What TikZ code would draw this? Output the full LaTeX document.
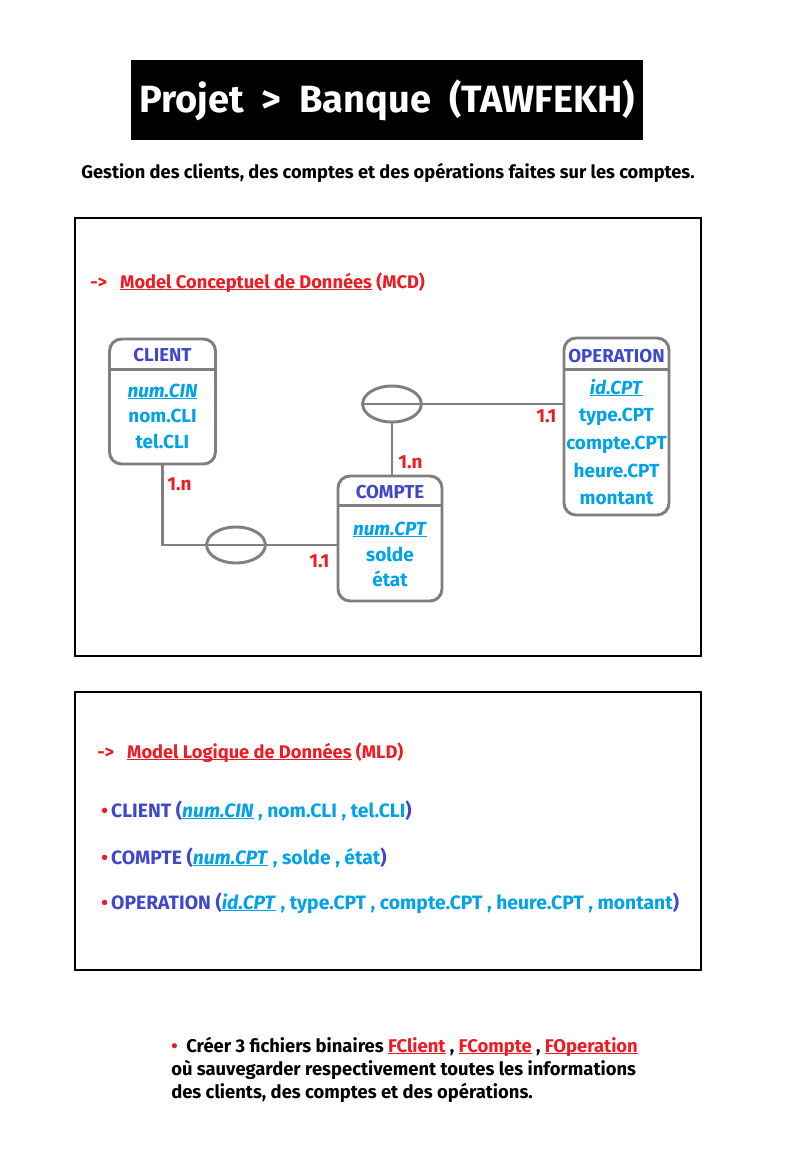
\documentclass[tikz,border=0pt]{standalone}
\usepackage{fontspec}
\setmainfont{Fira Sans}
\usetikzlibrary{shapes.geometric}
\definecolor{dblue}{HTML}{3F48CC}
\definecolor{lblue}{HTML}{00A2E8}
\definecolor{pred}{HTML}{ED1C24}
\definecolor{gry}{HTML}{7F7F7F}
\newcommand{\fs}[1]{\fontsize{#1}{#1}\selectfont\bfseries}
\newcommand{\myul}[1]{\setbox0\hbox{#1}\rlap{\rule[-1.6pt]{\wd0}{0.75pt}}\box0\relax}
\begin{document}
\begin{tikzpicture}[x=0.75pt,y=-0.75pt,
  entity/.style={draw=gry, line width=2.2pt, rounded corners=9pt, inner sep=0pt},
  sepline/.style={draw=gry, line width=2.2pt},
  rel/.style={ellipse, draw=gry, line width=2.2pt, minimum width=44pt, minimum height=27pt, inner sep=0pt},
  link/.style={draw=gry, line width=2.2pt},
  ename/.style={text=dblue, font=\fs{14}, anchor=base, inner sep=0pt},
  attr/.style={text=lblue, font=\fs{14.2}, anchor=base, inner sep=0pt},
  card/.style={text=pred, font=\fs{14.2}, anchor=base west, inner sep=0pt},
  txt/.style={font=\fs{14.5}, anchor=base west, inner sep=0pt},
  head/.style={text=pred, font=\fs{13.7}, anchor=base west, inner sep=0pt},
  frame/.style={draw=black, line width=0.8pt}]
\useasboundingbox (0,0) rectangle (800,1150);
\fill[white] (0,0) rectangle (800,1150);

% title
\node[fill=black, minimum width=384pt, minimum height=60pt, inner sep=0pt] (titlebox) at (387,100) {};
\node[text=white, font=\fs{28.5}, anchor=base, inner sep=0pt] (title) at (387,112) {Projet\ \ >\ \ Banque\ \ (TAWFEKH)};
\node[font=\fs{13.7}, anchor=base, inner sep=0pt] (subtitle) at (388,178) {Gestion des clients, des comptes et des opérations faites sur les comptes.};

% MCD frame
\node[frame, minimum width=469.5pt, minimum height=328.5pt, inner sep=0pt] (mcdframe) at (388,437) {};
\node[head] (mcdh) at (90,288) {->\ \ \ \myul{Model Conceptuel de Données} (MCD)};

% entities
\node[entity, minimum width=79.5pt, minimum height=93.75pt] (client) at (162.5,401.5) {};
\draw[sepline] ([yshift=-24pt]client.north west) -- ([yshift=-24pt]client.north east);
\node[ename] (clientn) at (162.5,361) {CLIENT};
\node[attr] (c1) at (162.5,397) {\myul{\textit{num.CIN}}};
\node[attr] (c2) at (162.5,422) {nom.CLI};
\node[attr] (c3) at (162.5,448) {tel.CLI};

\node[entity, minimum width=78.75pt, minimum height=132.75pt] (operation) at (616.5,426.5) {};
\draw[sepline] ([yshift=-24.75pt]operation.north west) -- ([yshift=-24.75pt]operation.north east);
\node[ename] (opn) at (616.5,362) {OPERATION};
\node[attr] (o1) at (616.5,394) {\myul{\textit{id.CPT}}};
\node[attr] (o2) at (616.5,421) {type.CPT};
\node[attr] (o3) at (616.5,449) {compte.CPT};
\node[attr] (o4) at (616.5,477) {heure.CPT};
\node[attr] (o5) at (616.5,504) {montant};

\node[entity, minimum width=78pt, minimum height=93.75pt] (compte) at (390,538.5) {};
\draw[sepline] ([yshift=-23.25pt]compte.north west) -- ([yshift=-23.25pt]compte.north east);
\node[ename] (compten) at (390,498) {COMPTE};
\node[attr] (k1) at (390,535) {\myul{\textit{num.CPT}}};
\node[attr] (k2) at (390,561) {solde};
\node[attr] (k3) at (390,586) {état};

% relations
\node[rel] (rel1) at (392,404) {};
\node[rel] (rel2) at (236,545) {};
\draw[link] (rel1.west) -- (rel1.east) -- (rel1.east -| operation.west);
\draw[link] (rel1.south) -- (rel1.south |- compte.north);
\draw[link] (client.south) |- (rel2.west) -- (rel2.east) -- (rel2.east -| compte.west);

% cardinalities
\node[card] (card1) at (167,490) {1.n};
\node[card] (card2) at (398,468) {1.n};
\node[card] (card3) at (309,567) {1.1};
\node[card] (card4) at (536,422) {1.1};

% MLD frame
\node[frame, minimum width=469.5pt, minimum height=208.5pt, inner sep=0pt] (mldframe) at (388,831) {};
\node[head] (mldh) at (97,758) {->\ \ \ \myul{Model Logique de Données} (MLD)};
\node[txt] (l1) at (101,817) {\textcolor{pred}{•}\,\textcolor{dblue}{CLIENT (}\textcolor{lblue}{\myul{\textit{num.CIN}} , nom.CLI , tel.CLI}\textcolor{dblue}{)}};
\node[txt] (l2) at (101,864) {\textcolor{pred}{•}\,\textcolor{dblue}{COMPTE (}\textcolor{lblue}{\myul{\textit{num.CPT}} , solde , état}\textcolor{dblue}{)}};
\node[txt] (l3) at (101,909) {\textcolor{pred}{•}\,\textcolor{dblue}{OPERATION (}\textcolor{lblue}{\myul{\textit{id.CPT}} , type.CPT , compte.CPT , heure.CPT , montant}\textcolor{dblue}{)}};

% bottom
\node[txt, font=\fs{13.8}] (b1) at (171,1052) {\textcolor{pred}{•}\ \ Créer 3 fichiers binaires \textcolor{pred}{\myul{FClient}} , \textcolor{pred}{\myul{FCompte}} , \textcolor{pred}{\myul{FOperation}}};
\node[txt, font=\fs{13.8}] (b2) at (171,1075) {où sauvegarder respectivement toutes les informations};
\node[txt, font=\fs{13.8}] (b3) at (171,1098) {des clients, des comptes et des opérations.};
\end{tikzpicture}
\end{document}
